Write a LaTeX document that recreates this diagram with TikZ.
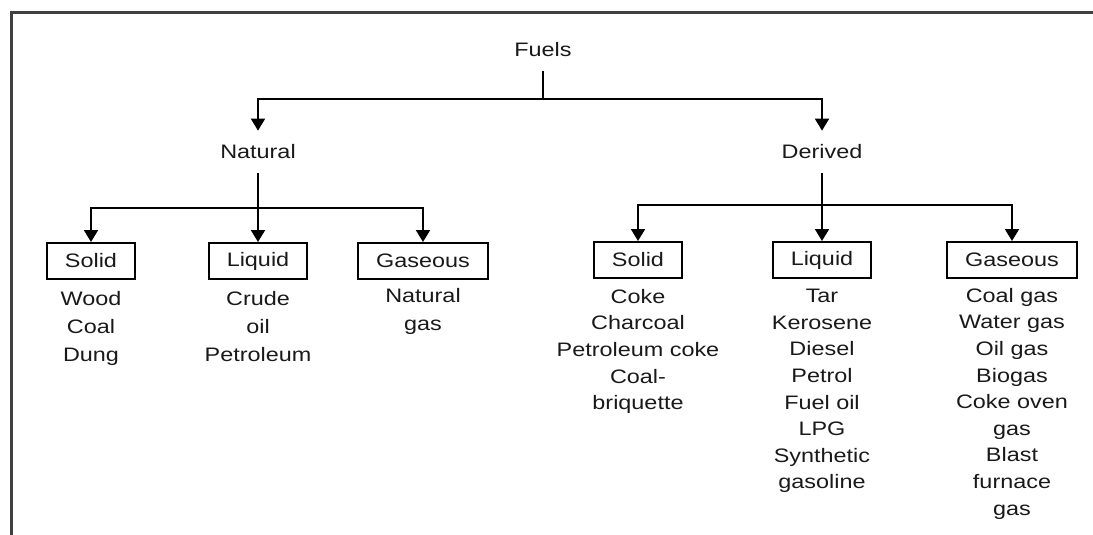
\documentclass[tikz,border=0pt]{standalone}
\usepackage{fontspec}
\setmainfont{Liberation Sans}[FakeStretch=1.2]
\usepackage{tikz}
\usetikzlibrary{arrows.meta,positioning}

\begin{document}
\begin{tikzpicture}[x=1pt,y=-1pt,
		lbl/.style={inner xsep=2pt,inner ysep=14pt,text=black!90,font=\fontsize{19.5}{26.5}\selectfont},
		kind/.style={draw,line width=2pt,minimum height=36pt,inner xsep=18pt,text=black!90,font=\fontsize{19.5}{26.5}\selectfont},
		items/.style={align=center,inner sep=3pt,text=black!90,font=\fontsize{19.5}{26.6}\selectfont},
		itemsl/.style={align=center,inner sep=3pt,text=black!90,font=\fontsize{19.5}{28}\selectfont},
		link/.style={line width=2pt},
		arr/.style={line width=2pt,-{Triangle[width=14pt,length=12pt]}}]
			% Frame
			\useasboundingbox (0,0) rectangle (1093,535);
			\draw[line width=3pt,black!75] (1093,13) -- (11,13) -- (11,535);
			
			% Fuels and its two kinds
			\node[lbl] (fuels) at (543,50) {Fuels};
			\node[lbl] (natural) at (258,152) {Natural};
			\node[lbl] (derived) at (822,152) {Derived};
			\coordinate (fj) at (543,99);
			\draw[link] (fuels.south) -- (fj);
			\draw[arr] (fj) -| (natural.north);
			\draw[arr] (fj) -| (derived.north);
			
			% Natural fuels
			\foreach \name/\x/\txt in {nsolid/91/Solid,nliquid/258/Liquid,ngas/423/Gaseous} {
				\node[kind] (\name) at (\x,261) {\txt};
			}
			\coordinate (nj) at (258,208);
			\draw[arr] (natural.south) -- (nliquid.north);
			\draw[arr] (nj) -| (nsolid.north);
			\draw[arr] (nj) -| (ngas.north);
			\node[itemsl,below=8pt of nsolid] (nsolidlist) {Wood\\Coal\\Dung};
			\node[itemsl,below=8pt of nliquid] (nliquidlist) {Crude\\oil\\Petroleum};
			\node[itemsl,below=5pt of ngas] (ngaslist) {Natural\\gas};
			
			% Derived fuels
			\foreach \name/\x/\txt in {dsolid/638/Solid,dliquid/822/Liquid,dgas/1012/Gaseous} {
				\node[kind] (\name) at (\x,260) {\txt};
			}
			\coordinate (dj) at (822,205);
			\draw[arr] (derived.south) -- (dliquid.north);
			\draw[arr] (dj) -| (dsolid.north);
			\draw[arr] (dj) -| (dgas.north);
			\node[items,below=7pt of dsolid] (dsolidlist) {Coke\\Charcoal\\Petroleum coke\\Coal-\\briquette};
			\node[items,below=7pt of dliquid] (dliquidlist) {Tar\\Kerosene\\Diesel\\Petrol\\Fuel oil\\LPG\\Synthetic\\gasoline};
			\node[items,below=6pt of dgas] (dgaslist) {Coal gas\\Water gas\\Oil gas\\Biogas\\Coke oven\\gas\\Blast\\furnace\\gas};
		\end{tikzpicture}
\end{document}
